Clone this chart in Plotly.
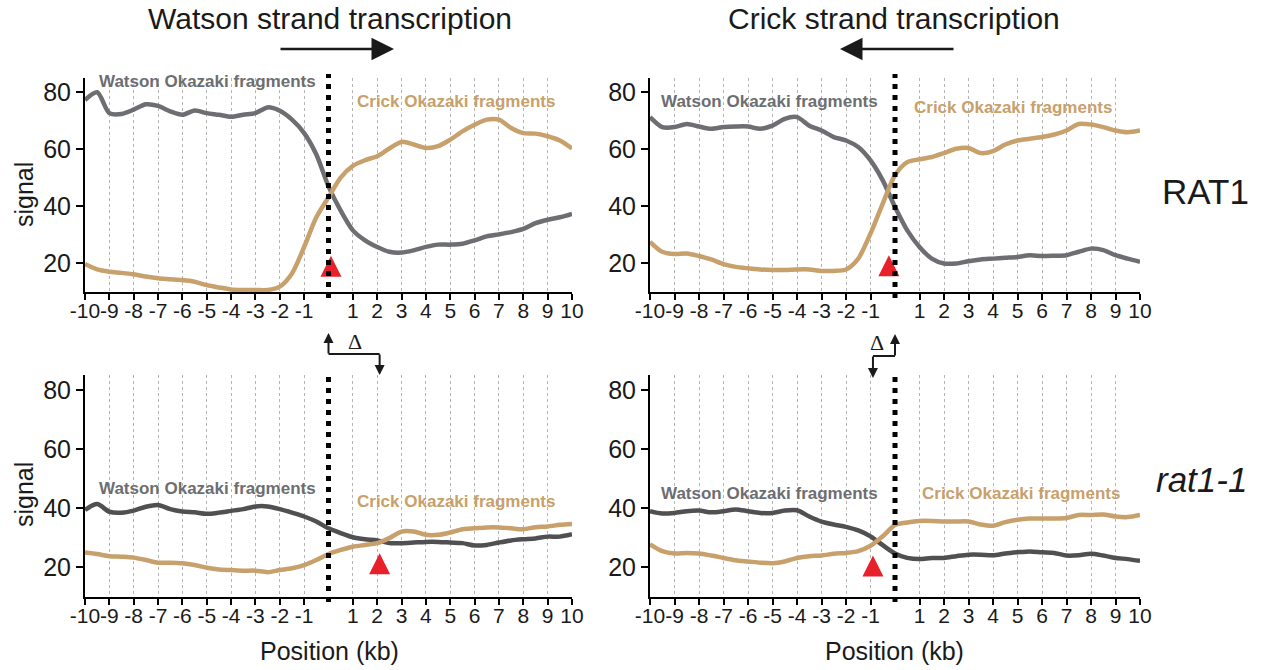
import plotly.graph_objects as go

# ---------------- data ----------------
positions = [-10, -9.5, -9, -8.5, -8, -7.5, -7, -6.5, -6, -5.5, -5, -4.5, -4, -3.5, -3, -2.5,
             -2, -1.5, -1, -0.5, 0, 0.5, 1, 1.5, 2, 2.5, 3, 3.5, 4, 4.5, 5, 5.5, 6, 6.5, 7,
             7.5, 8, 8.5, 9, 9.5, 10]

tl_watson = [77.3, 80.0, 72.7, 72.4, 73.9, 75.8, 75.2, 73.3, 72.1, 73.6, 72.7, 72.1, 71.4, 72.1,
             72.7, 74.7, 73.5, 70.4, 65.7, 58.2, 47.0, 38.5, 31.6, 28.1, 25.8, 24.1, 23.8, 24.6,
             25.8, 26.6, 26.6, 26.9, 28.1, 29.5, 30.2, 31.0, 32.1, 34.1, 35.3, 36.2, 37.4]
tl_crick = [19.8, 17.9, 17.1, 16.7, 16.2, 15.4, 14.8, 14.5, 14.2, 13.6, 12.4, 11.6, 10.9, 10.7,
            10.7, 10.7, 11.9, 16.5, 25.8, 36.2, 43.2, 50.1, 54.2, 56.2, 57.6, 60.3, 62.6, 61.7,
            60.5, 61.1, 63.4, 66.3, 68.6, 70.4, 70.4, 67.5, 65.7, 65.5, 64.6, 63.1, 60.3]
tr_watson = [71.3, 67.8, 67.8, 68.9, 68.0, 67.2, 67.8, 68.0, 68.0, 67.2, 68.3, 70.7, 71.3, 68.3,
             66.6, 64.3, 63.1, 60.8, 56.1, 49.1, 39.8, 31.6, 25.8, 21.7, 20.0, 20.0, 20.8, 21.4,
             21.7, 22.0, 22.3, 22.9, 22.6, 22.7, 22.9, 24.1, 25.2, 24.7, 22.9, 21.7, 20.6]
tr_crick = [27.6, 24.1, 23.3, 23.5, 22.6, 21.4, 19.8, 18.8, 18.3, 17.9, 17.7, 17.7, 17.9, 17.9,
            17.4, 17.4, 17.9, 21.7, 30.5, 41.0, 50.9, 55.5, 56.5, 57.3, 58.7, 60.2, 60.5, 58.7,
            59.4, 61.7, 63.1, 63.7, 64.3, 65.2, 66.6, 68.9, 68.7, 67.8, 66.6, 66.0, 66.6]
bl_watson = [39.4, 41.4, 38.8, 38.5, 39.2, 40.5, 41.1, 39.7, 38.9, 38.6, 38.1, 38.5, 39.1, 39.7,
             40.6, 40.6, 39.7, 38.5, 37.2, 35.5, 33.2, 31.6, 30.2, 29.5, 29.1, 28.2, 28.2, 28.4,
             28.6, 28.6, 28.4, 28.2, 27.4, 27.6, 28.4, 29.1, 29.5, 29.8, 30.4, 30.4, 31.2]
bl_crick = [25.0, 24.5, 23.8, 23.6, 23.3, 22.5, 21.6, 21.6, 21.4, 20.8, 19.9, 19.3, 19.1, 18.9,
            18.9, 18.4, 19.1, 19.7, 20.8, 22.5, 24.5, 25.9, 27.0, 27.6, 28.2, 29.9, 32.1, 32.1,
            31.0, 31.0, 31.8, 32.9, 33.2, 33.5, 33.5, 33.2, 32.9, 33.6, 33.8, 34.4, 34.7]
br_watson = [39.0, 38.2, 38.4, 39.0, 39.2, 38.6, 39.0, 39.6, 39.0, 38.4, 38.4, 39.2, 39.3, 37.2,
             35.5, 34.5, 33.7, 32.5, 30.5, 27.5, 24.7, 23.2, 22.8, 23.2, 23.2, 23.8, 24.3, 24.3,
             24.1, 24.7, 25.1, 25.4, 25.1, 24.9, 24.0, 24.1, 24.6, 24.0, 23.2, 22.8, 22.2]
br_crick = [27.8, 25.5, 24.7, 24.9, 24.7, 24.0, 23.2, 22.4, 22.0, 21.6, 21.4, 22.0, 23.2, 23.8,
            24.0, 24.6, 24.9, 25.5, 27.3, 30.5, 34.3, 35.2, 35.7, 35.7, 35.5, 35.5, 35.5, 34.5,
            34.1, 35.3, 36.1, 36.5, 36.5, 36.5, 36.7, 37.7, 37.7, 37.9, 37.2, 37.0, 37.7]

# red triangles (apex positions): TL, TR, BL, BR
tri_x = [0.1, -0.25, 2.1, -0.9]
tri_y = [22.7, 22.9, 24.8, 24.0]

x_tickvals = [-10, -9, -8, -7, -6, -5, -4, -3, -2, -1, 1, 2, 3, 4, 5, 6, 7, 8, 9, 10]
x_ticktext = ["-10", "-9", "-8", "-7", "-6", "-5", "-4", "-3", "-2", "-1",
              "1", "2", "3", "4", "5", "6", "7", "8", "9", "10"]
y_tickvals = [20, 40, 60, 80]

titles = ["Watson strand transcription", "Crick strand transcription"]
row_labels = ["RAT1", "<i>rat1-1</i>"]
watson_label = "Watson Okazaki fragments"
crick_label = "Crick Okazaki fragments"

# ---------------- styling ----------------
FONT = "Liberation Sans, Arial, Helvetica, sans-serif"
TXT = "#1a1a1a"
GRAY_TOP = "#6d6e71"
GRAY_BOT = "#505053"
TAN = "#c8a06c"
RED = "#e8202a"
W, H = 1264, 670

XDOM = [[85 / W, 572 / W], [650 / W, 1140 / W]]
YDOM = [[(H - 292) / H, (H - 78) / H], [(H - 597) / H, (H - 375) / H]]


def py(px):
    return (H - px) / H


fig = go.Figure()

panels = [
    ("", 0, 0, tl_watson, tl_crick, GRAY_TOP, 0),
    ("2", 1, 0, tr_watson, tr_crick, GRAY_TOP, 1),
    ("3", 0, 1, bl_watson, bl_crick, GRAY_BOT, 2),
    ("4", 1, 1, br_watson, br_crick, GRAY_BOT, 3),
]

layout = dict(
    width=W, height=H, autosize=False,
    margin=dict(l=0, r=0, t=0, b=0, pad=0, autoexpand=False),
    paper_bgcolor="white", plot_bgcolor="white",
    showlegend=False,
    font=dict(family=FONT, color=TXT),
)

shapes = []
annotations = []

for suf, col, row, wat, cri, gray, ti in panels:
    xa, ya = "x" + suf, "y" + suf
    fig.add_trace(go.Scatter(x=positions, y=wat, mode="lines", xaxis=xa, yaxis=ya,
                             line=dict(color=gray, width=4.5, shape="spline", smoothing=0.8)))
    fig.add_trace(go.Scatter(x=positions, y=cri, mode="lines", xaxis=xa, yaxis=ya,
                             line=dict(color=TAN, width=4.5, shape="spline", smoothing=0.8)))
    fig.add_trace(go.Scatter(x=[tri_x[ti]], y=[tri_y[ti]], mode="markers", xaxis=xa, yaxis=ya,
                             marker=dict(symbol="arrow-up", size=21, color=RED,
                                         line=dict(width=0)), cliponaxis=False))

    layout["xaxis" + suf] = dict(
        domain=XDOM[col], anchor=ya, range=[-10, 10], automargin=False,
        tickmode="array", tickvals=x_tickvals, ticktext=x_ticktext, tickangle=0,
        ticks="outside", ticklen=6, tickwidth=1.5, tickcolor="black",
        ticklabelstandoff=-7,
        showline=True, linecolor="black", linewidth=2,
        showgrid=True, gridcolor="#b4b4b4", griddash="dot", gridwidth=1,
        zeroline=False, tickfont=dict(size=21, family=FONT, color=TXT),
        fixedrange=True,
    )
    layout["yaxis" + suf] = dict(
        domain=YDOM[row], anchor=xa, range=[10, 85], automargin=False,
        tickmode="array", tickvals=y_tickvals,
        ticks="outside", ticklen=7, tickwidth=1.5, tickcolor="black",
        showline=True, linecolor="black", linewidth=2,
        showgrid=False, zeroline=False,
        tickfont=dict(size=25, family=FONT, color=TXT),
        fixedrange=True,
    )

    # black dotted line at position 0
    if row == 0:
        y0, y1 = py(298), py(74)
    else:
        y0, y1 = py(602), py(372)
    shapes.append(dict(type="line", xref=xa, yref="paper", x0=0, x1=0, y0=y0, y1=y1,
                       line=dict(color="black", width=5, dash="5px,6px"), layer="above"))

# curve labels
label_pos = [
    ("x", "y", (-0.45, 83.6), (1.1, 76.6)),
    ("x2", "y2", (-0.6, 76.6), (0.7, 74.8)),
    ("x3", "y3", (-0.45, 46.8), (1.1, 42.1)),
    ("x4", "y4", (-0.6, 45.1), (1.0, 44.8)),
]
for xr, yr, (wx, wy), (cx, cy) in label_pos:
    annotations.append(dict(xref=xr, yref=yr, x=wx, y=wy, text="<b>" + watson_label + "</b>",
                            showarrow=False, xanchor="right", yanchor="middle",
                            font=dict(size=17, color=GRAY_TOP, family=FONT)))
    annotations.append(dict(xref=xr, yref=yr, x=cx, y=cy, text="<b>" + crick_label + "</b>",
                            showarrow=False, xanchor="left", yanchor="middle",
                            font=dict(size=17, color=TAN, family=FONT)))

# column titles
annotations.append(dict(xref="paper", yref="paper", x=330 / W, y=py(18), text=titles[0],
                        showarrow=False, xanchor="center", yanchor="middle",
                        font=dict(size=30, color=TXT, family=FONT)))
annotations.append(dict(xref="paper", yref="paper", x=894 / W, y=py(18), text=titles[1],
                        showarrow=False, xanchor="center", yanchor="middle",
                        font=dict(size=30, color=TXT, family=FONT)))
# direction arrows
annotations.append(dict(xref="paper", yref="paper", x=394 / W, y=py(49), ax=-115, ay=0,
                        axref="pixel", ayref="pixel", text="", showarrow=True,
                        arrowhead=2, arrowsize=1.8, arrowwidth=2.5, arrowcolor=TXT))
annotations.append(dict(xref="paper", yref="paper", x=840 / W, y=py(49), ax=115, ay=0,
                        axref="pixel", ayref="pixel", text="", showarrow=True,
                        arrowhead=2, arrowsize=1.8, arrowwidth=2.5, arrowcolor=TXT))

# row labels
annotations.append(dict(xref="paper", yref="paper", x=1205 / W, y=py(192), text=row_labels[0],
                        showarrow=False, xanchor="center", yanchor="middle",
                        font=dict(size=35, color=TXT, family=FONT)))
annotations.append(dict(xref="paper", yref="paper", x=1201 / W, y=py(479), text=row_labels[1],
                        showarrow=False, xanchor="center", yanchor="middle",
                        font=dict(size=35, color=TXT, family=FONT)))

# axis titles
for yc in (195, 495):
    annotations.append(dict(xref="paper", yref="paper", x=24 / W, y=py(yc), text="signal",
                            showarrow=False, textangle=-90, xanchor="center", yanchor="middle",
                            font=dict(size=25, color=TXT, family=FONT)))
for xc in (329, 894):
    annotations.append(dict(xref="paper", yref="paper", x=xc / W, y=py(651), text="Position (kb)",
                            showarrow=False, xanchor="center", yanchor="middle",
                            font=dict(size=25, color=TXT, family=FONT)))

# delta elbow arrows
elbows = [("x3", 0, tri_x[2], 354, 333, 375), ("x4", 0, tri_x[3], 356, 334, 378)]
for xr, xs, xe, yh, ytop, ybot in elbows:
    shapes.append(dict(type="line", xref=xr, yref="paper", x0=xs, x1=xe, y0=py(yh), y1=py(yh),
                       line=dict(color=TXT, width=2)))
    annotations.append(dict(xref=xr, yref="paper", x=xs, y=py(ytop), ax=0, ay=yh - ytop + 1,
                            axref="pixel", ayref="pixel", text="", showarrow=True,
                            arrowhead=2, arrowsize=1, arrowwidth=2, arrowcolor=TXT))
    annotations.append(dict(xref=xr, yref="paper", x=xe, y=py(ybot), ax=0, ay=-(ybot - yh + 1),
                            axref="pixel", ayref="pixel", text="", showarrow=True,
                            arrowhead=2, arrowsize=1, arrowwidth=2, arrowcolor=TXT))
annotations.append(dict(xref="x3", yref="paper", x=1.1, y=py(341), text="Δ", showarrow=False,
                        font=dict(size=22, family="Liberation Serif, serif", color=TXT)))
annotations.append(dict(xref="x4", yref="paper", x=-0.75, y=py(342), text="Δ", showarrow=False,
                        font=dict(size=22, family="Liberation Serif, serif", color=TXT)))

layout["shapes"] = shapes
layout["annotations"] = annotations
fig.update_layout(**layout)

fig.write_html("out.html", config={"displayModeBar": False},
               post_script="document.body.style.margin='0px';")
